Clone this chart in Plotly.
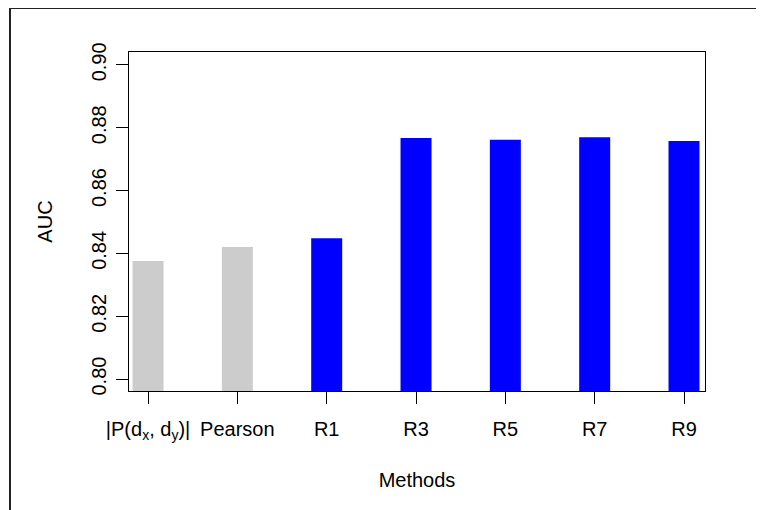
import plotly.graph_objects as go

methods = ["|P(d<sub>x</sub>, d<sub>y</sub>)|", "Pearson", "R1", "R3", "R5", "R7", "R9"]
auc = [0.8376, 0.8420, 0.8448, 0.8767, 0.8762, 0.8770, 0.8758]
bar_colors = ["#cccccc", "#cccccc", "#0000ff", "#0000ff", "#0000ff", "#0000ff", "#0000ff"]
y_ticks = [0.80, 0.82, 0.84, 0.86, 0.88, 0.90]

# page has an 8px body margin, so the figure starts at (8, 8)
OFF = 8
W, H = 764 - OFF, 510 - OFF
L, R, T, B = 129 - OFF, 705 - OFF, 52 - OFF, 391 - OFF

x_idx = list(range(len(methods)))

fig = go.Figure(go.Bar(
    x=x_idx, y=auc, marker=dict(color=bar_colors, line=dict(width=0)),
    width=0.347,
))

font = dict(family="Liberation Sans, Arial, sans-serif", size=20, color="#000000")

fig.update_layout(
    width=W, height=H,
    margin=dict(l=L, r=W - R, t=T, b=H - B),
    paper_bgcolor="white", plot_bgcolor="white",
    font=font, showlegend=False,
    xaxis=dict(
        range=[-0.213, 6.235], tickmode="array", tickvals=x_idx, ticktext=methods,
        ticks="outside", ticklen=12, tickcolor="#000", tickwidth=1,
        showline=True, linecolor="#000", linewidth=1, mirror=True,
        showgrid=False, zeroline=False, tickangle=0, ticklabelstandoff=8,
        title=dict(text="Methods", standoff=30, font=font),
    ),
    yaxis=dict(
        range=[0.7962, 0.9041], tickmode="array", tickvals=y_ticks,
        ticktext=[f"{v:.2f}" for v in y_ticks], tickangle=-90,
        ticks="outside", ticklen=12, tickcolor="#000", tickwidth=1,
        showline=True, linecolor="#000", linewidth=1, mirror=True,
        showgrid=False, zeroline=False, ticklabelstandoff=2,
        title=dict(text="AUC", standoff=30, font=font),
    ),
    shapes=[dict(
        type="rect", xref="paper", yref="paper",
        x0=(10 - 129) / (705 - 129), x1=2.0,
        y0=-2.0, y1=(391 - 8) / (391 - 52),
        line=dict(color="#222222", width=2), fillcolor="rgba(0,0,0,0)",
    )],
)

fig.write_html("out.html")
